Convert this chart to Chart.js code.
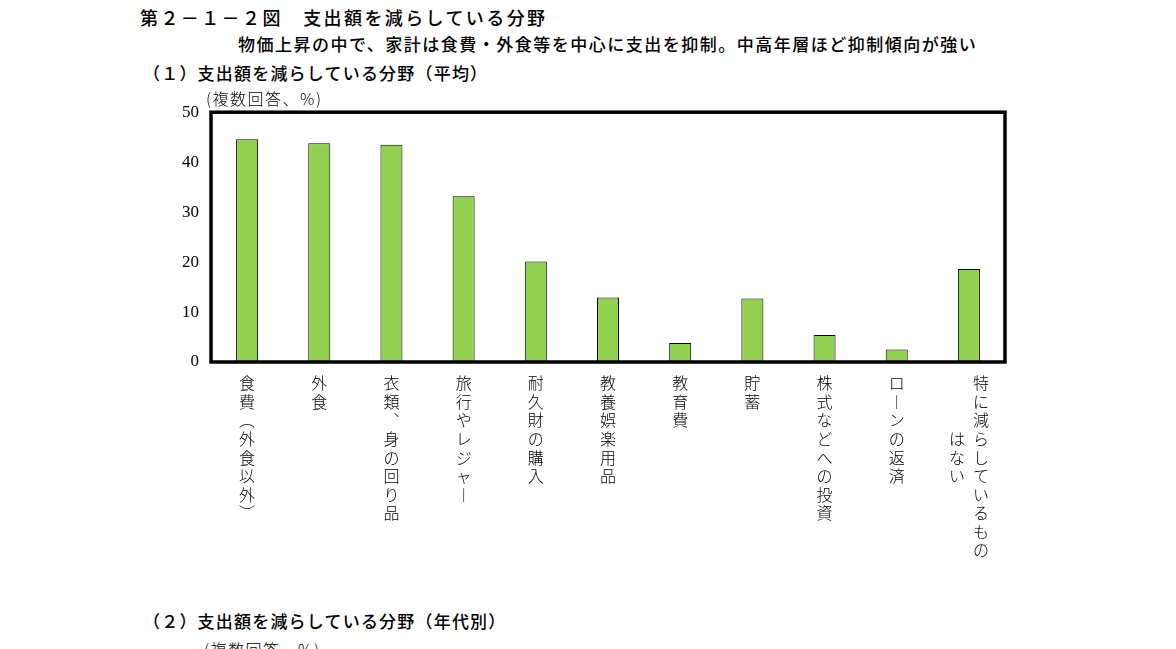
<!DOCTYPE html>
<html>
<head>
<meta charset="utf-8">
<script src="https://cdn.jsdelivr.net/npm/chart.js@4.4.1/dist/chart.umd.min.js"></script>
<style>
  html, body { margin:0; padding:0; background:#fff; }
  body { width:1176px; height:649px; position:relative; overflow:hidden; font-family:"Noto Sans CJK JP", sans-serif; color:#000; }
  .t { position:absolute; white-space:nowrap; line-height:1; }
  #title { left:140px; top:8px; font-size:18px; letter-spacing:2.4px; font-weight:500; }
  #sub { left:238px; top:35px; font-size:17px; letter-spacing:1.5px; font-weight:500; }
  #p1 { left:143px; top:64px; font-size:17px; letter-spacing:1.2px; font-weight:500; }
  #p2 { left:143px; top:612px; font-size:17px; letter-spacing:1.2px; font-weight:500; }
  #unit1 { left:206px; top:90px; font-size:16px; letter-spacing:1.5px; font-weight:300; z-index:2; }
  #unit2 { left:204px; top:641px; font-size:16px; letter-spacing:1.5px; font-weight:300; }
  #wrap { position:absolute; left:171px; top:90px; width:844px; height:502px; }
</style>
</head>
<body>
<div class="t" id="title">第２－１－２図　支出額を減らしている分野</div>
<div class="t" id="sub">物価上昇の中で、家計は食費・外食等を中心に支出を抑制。中高年層ほど抑制傾向が強い</div>
<div class="t" id="p1">（１）支出額を減らしている分野（平均）</div>
<div class="t" id="unit1">(複数回答、%)</div>
<div class="t" id="p2">（２）支出額を減らしている分野（年代別）</div>
<div class="t" id="unit2">(複数回答、%)</div>
<div id="wrap"><canvas id="c"></canvas></div>
<script>
// ---- data ----
const categories = [
  '食費（外食以外）',
  '外食',
  '衣類、身の回り品',
  '旅行やレジャー',
  '耐久財の購入',
  '教養娯楽用品',
  '教育費',
  '貯蓄',
  '株式などへの投資',
  'ローンの返済',
  '特に減らしているもの\nはない'
];
const values = [44.6, 43.8, 43.5, 33.2, 20.1, 12.9, 3.8, 12.7, 5.4, 2.5, 18.6];
const yTicks = [0, 10, 20, 30, 40, 50];

// vertical-writing helper: one character per line, columns right-to-left
const vertMap = { '（':'︵', '）':'︶', '、':'︑', 'ー':'︱' };
function verticalLines(label) {
  const cols = label.split('\n').map(c => Array.from(c).map(ch => vertMap[ch] || ch));
  if (cols.length === 1) return cols[0];
  const rows = Math.max(...cols.map(c => c.length));
  const offs = cols.map((c, i) => i === 0 ? 0 : Math.floor((rows - c.length) / 2));
  const lines = [];
  for (let r = 0; r < rows; r++) {
    const parts = [];
    for (let k = cols.length - 1; k >= 0; k--) {
      const idx = r - offs[k];
      parts.push(idx >= 0 && idx < cols[k].length ? cols[k][idx] : '　');
    }
    lines.push(parts.join('\u2002'));
  }
  return lines;
}
const tickLabels = categories.map(verticalLines);

const framePlugin = {
  id: 'frame',
  afterDraw(chart) {
    const { ctx, chartArea: a } = chart;
    ctx.save();
    ctx.strokeStyle = '#000';
    ctx.lineWidth = 3.5;
    ctx.strokeRect(a.left, a.top, a.right - a.left, a.bottom - a.top);
    ctx.restore();
  }
};

new Chart(document.getElementById('c'), {
  type: 'bar',
  data: {
    labels: tickLabels,
    datasets: [{
      data: values,
      backgroundColor: '#92D050',
      borderColor: '#000',
      borderWidth: 1,
      barPercentage: 0.305,
      categoryPercentage: 1.0
    }]
  },
  options: {
    responsive: true,
    maintainAspectRatio: false,
    animation: false,
    layout: { autoPadding: false, padding: { left: 0, right: 10, top: 1, bottom: 0 } },
    plugins: { legend: { display: false }, tooltip: { enabled: false }, title: { display: false } },
    scales: {
      x: {
        grid: { display: false, drawTicks: false },
        border: { display: false },
        ticks: {
          autoSkip: false, maxRotation: 0, minRotation: 0, padding: 12,
          color: '#000',
          font: { family: '"Noto Sans CJK JP", sans-serif', size: 16, weight: 300, lineHeight: 1.16 }
        },
        afterFit(s) { s.height = 230; }
      },
      y: {
        min: 0, max: 50,
        afterBuildTicks(s) { s.ticks = yTicks.map(v => ({ value: v })); },
        grid: { display: false, drawTicks: false },
        border: { display: false },
        ticks: {
          padding: 12, color: '#000',
          font: { family: '"Liberation Serif", serif', size: 17 }
        },
        afterFit(s) { s.width = 40; }
      }
    }
  },
  plugins: [framePlugin]
});
</script>
</body>
</html>
